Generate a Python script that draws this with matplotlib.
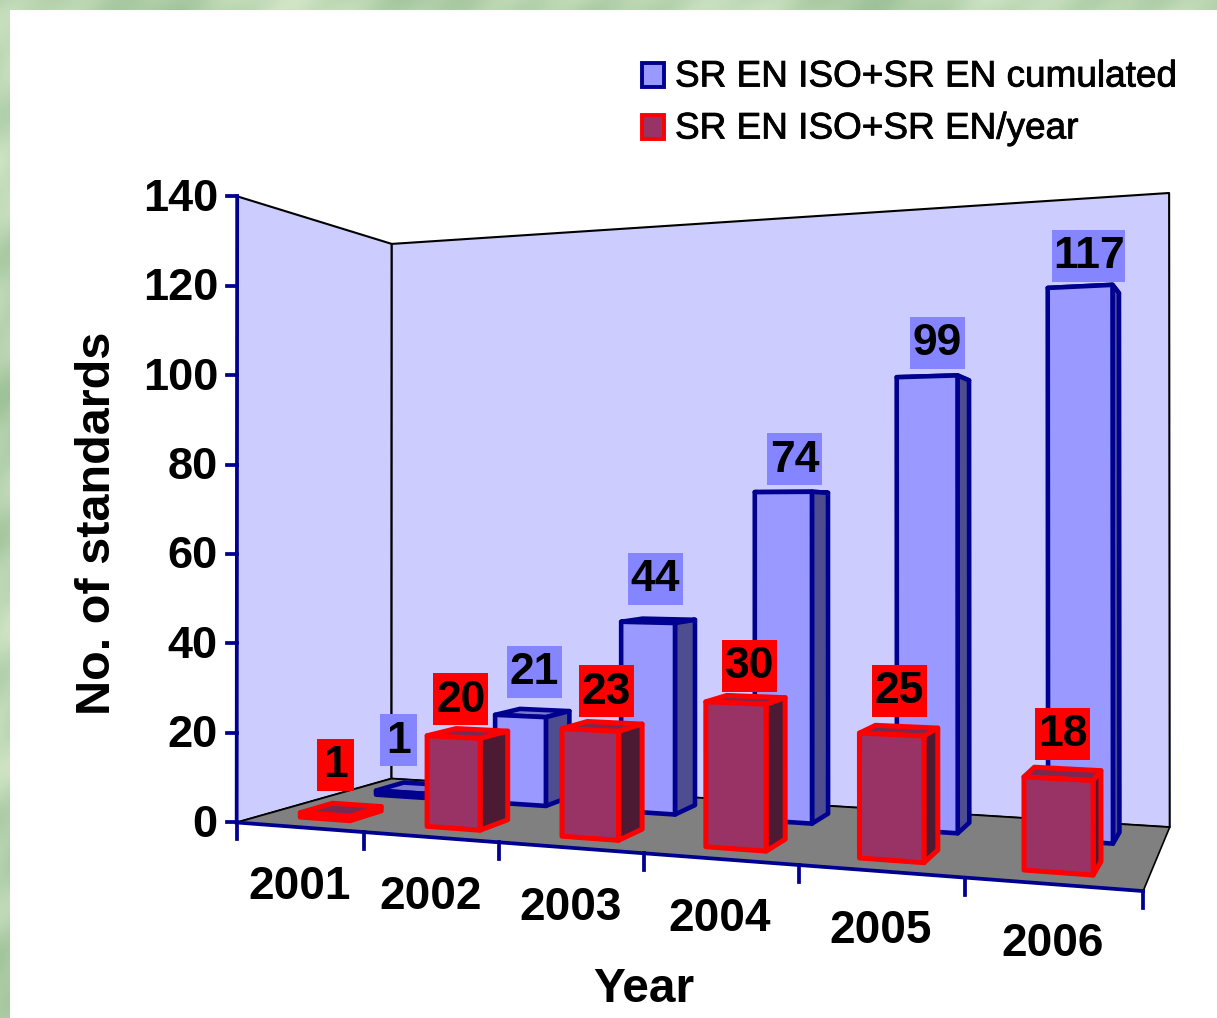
import numpy as np
import matplotlib
matplotlib.use('Agg')
import matplotlib.pyplot as plt
import matplotlib.patheffects as pe
from matplotlib.patches import Polygon, Rectangle

years = ['2001', '2002', '2003', '2004', '2005', '2006']
cumulated = [1, 21, 44, 74, 99, 117]
per_year = [1, 20, 23, 30, 25, 18]
y_ticks = [0, 20, 40, 60, 80, 100, 120, 140]
legend_labels = ['SR EN ISO+SR EN cumulated', 'SR EN ISO+SR EN/year']

W, H = 1217, 1018
NAVY = '#000090'
RED = '#ff0000'
FONT = 'Liberation Sans'

# (category, depth, value) -> pixel pairs, used to fit the chart's perspective
calib = [
    (0, 0, 0, 237, 822), (6, 0, 0, 1145, 888), (6, 1, 0, 1169, 829),
    (0, 1, 0, 392, 778), (0, 0, 140, 237, 197), (0, 1, 140, 392, 243),
    (6, 1, 140, 1169, 193), (1, 0, 0, 363, 832), (2, 0, 0, 498, 843),
    (3, 0, 0, 645, 854), (4, 0, 0, 800, 866), (5, 0, 0, 963, 877),
    (0, 0, 70, 237, 510),
]


def fit_camera(points):
    rows, rhs = [], []
    for u, v, z, px, py in points:
        rows.append([u, v, z, 1, 0, 0, 0, 0, -px * u, -px * v, -px * z])
        rows.append([0, 0, 0, 0, u, v, z, 1, -py * u, -py * v, -py * z])
        rhs += [px, py]
    sol = np.linalg.lstsq(np.array(rows, float), np.array(rhs, float),
                          rcond=None)[0]
    return np.append(sol, 1).reshape(3, 4)


camera = fit_camera(calib)


def project(u, v, z):
    p = camera @ np.array([u, v, z, 1.])
    return p[0] / p[2], p[1] / p[2]


def poly(ax, pts, face, edge=None, lw=0, zorder=2):
    ax.add_patch(Polygon(pts, closed=True, facecolor=face,
                         edgecolor=edge if edge else 'none', linewidth=lw,
                         joinstyle='round', zorder=zorder))


def draw_bar(ax, i, value, u_range, v_range, front, side, top, edge, lw):
    u0, u1 = i + u_range[0], i + u_range[1]
    v0, v1 = v_range
    poly(ax, [project(u0, v0, value), project(u1, v0, value),
              project(u1, v1, value), project(u0, v1, value)], top, edge, lw)
    poly(ax, [project(u1, v0, 0), project(u1, v1, 0),
              project(u1, v1, value), project(u1, v0, value)], side, edge, lw)
    poly(ax, [project(u0, v0, 0), project(u1, v0, 0),
              project(u1, v0, value), project(u0, v0, value)], front, edge, lw)


def draw_label(ax, i, value, u_range, v_range, color, dy, nudge=(0, 0)):
    x, y = project(i + sum(u_range) / 2, sum(v_range) / 2, value)
    x += nudge[0]
    y += nudge[1] - dy
    txt = str(value)
    w = 19 + 18 * len(txt)
    ax.add_patch(Rectangle((x - w / 2, y - 26), w, 52, facecolor=color,
                           edgecolor='none', zorder=5))
    ax.text(x, y + 1, txt, ha='center', va='center', fontsize=32,
            weight='bold', family=FONT, color='black', zorder=6)


fig = plt.figure(figsize=(W / 100, H / 100), dpi=100, facecolor='white')
ax = fig.add_axes([0, 0, 1, 1])
ax.set_xlim(0, W)
ax.set_ylim(H, 0)
ax.axis('off')

# marbled slide background showing along the top and left edges
yy, xx = np.mgrid[0:H, 0:W]
marble = (np.sin(xx / 37. + yy / 90.) + np.sin(yy / 23. - xx / 61.)
          + 0.6 * np.sin((xx + yy) / 11.))
marble = (marble - marble.min()) / (marble.max() - marble.min())
bg = np.zeros((H, W, 3))
for c, (a, b) in enumerate([(0.62, 0.82), (0.76, 0.90), (0.60, 0.78)]):
    bg[:, :, c] = a + (b - a) * marble
ax.imshow(bg, extent=(0, W, H, 0), aspect='auto', zorder=0)
ax.set_xlim(0, W)
ax.set_ylim(H, 0)
ax.add_patch(Rectangle((10, 10), W, H, facecolor='white', edgecolor='none',
                       zorder=1))

# walls and floor
poly(ax, [project(0, 0, 0), project(0, 1, 0), project(0, 1, 140),
          project(0, 0, 140)], '#ccccff', 'black', 1.5)
poly(ax, [project(0, 1, 0), project(6, 1, 0), project(6, 1, 140),
          project(0, 1, 140)], '#ccccff', 'black', 1.5)
poly(ax, [project(0, 0, 0), project(6, 0, 0), project(6, 1, 0),
          project(0, 1, 0)], '#808080', 'black', 1.2)

# axes
x0, y0 = project(0, 0, 0)
x1, y1 = project(0, 0, y_ticks[-1])
ax.plot([x0, x1], [y0, y1], color=NAVY, lw=2.7, zorder=2.5)
for t in y_ticks:
    x, y = project(0, 0, t)
    ax.plot([x - 10, x], [y, y], color=NAVY, lw=2.7, zorder=2.5)
    ax.text(x - 19, y + 3, str(t), ha='right', va='center', fontsize=32.5,
            weight='bold', family=FONT)

xa, ya = project(6, 0, 0)
ax.plot([x0, xa], [y0, ya], color=NAVY, lw=2.7, zorder=2.5)
for i in range(len(years) + 1):
    x, y = project(i, 0, 0)
    ax.plot([x, x], [y, y + 17], color=NAVY, lw=2.7, zorder=2.5)
for i, year in enumerate(years):
    x, y = project(i + 0.5, 0, 0)
    ax.text(x, y + 60, year, ha='center', va='center', fontsize=33,
            weight='bold', family=FONT)

ax.text(98, 523, 'No. of standards', rotation=90, ha='center', va='center',
        fontsize=35, weight='bold', family=FONT)
ax.text(644, 989, 'Year', ha='center', va='center', fontsize=34.5,
        weight='bold', family=FONT)

# bars, back row first
blue_u, blue_v = (0.29, 0.70), (0.65, 0.85)
red_u, red_v = (0.29, 0.69), (0.16, 0.36)
for i, value in enumerate(cumulated):
    draw_bar(ax, i, value, blue_u, blue_v, '#9999ff', '#4d4d8f', '#7a7ad0',
             NAVY, 3.3)
for i, value in enumerate(per_year):
    draw_bar(ax, i, value, red_u, red_v, '#993366', '#4d1a33', '#7a2850',
             RED, 3.6)
blue_nudge = [(-15, -12), (2, -5), (-3, -6), (3, 3), (4, 0), (5, 1)]
red_nudge = [(-6, -5), (-7, 6), (4, 5), (4, 6), (0, 0), (0, 0)]
for i, value in enumerate(cumulated):
    draw_label(ax, i, value, blue_u, blue_v, '#8585ff', 36, blue_nudge[i])
for i, value in enumerate(per_year):
    draw_label(ax, i, value, red_u, red_v, RED, 40, red_nudge[i])

# legend
swatches = [('#9999ff', NAVY), ('#993366', RED)]
for label, (face, edge), y in zip(legend_labels, swatches, [75, 127]):
    ax.add_patch(Rectangle((642, y - 12), 22, 24, facecolor=face,
                           edgecolor=edge, linewidth=2.8, zorder=3))
    ax.text(675, y + 2, label, ha='left', va='center', fontsize=26.6,
            family=FONT,
            path_effects=[pe.withStroke(linewidth=0.6, foreground='black')])

fig.savefig('out.png', dpi=100)
